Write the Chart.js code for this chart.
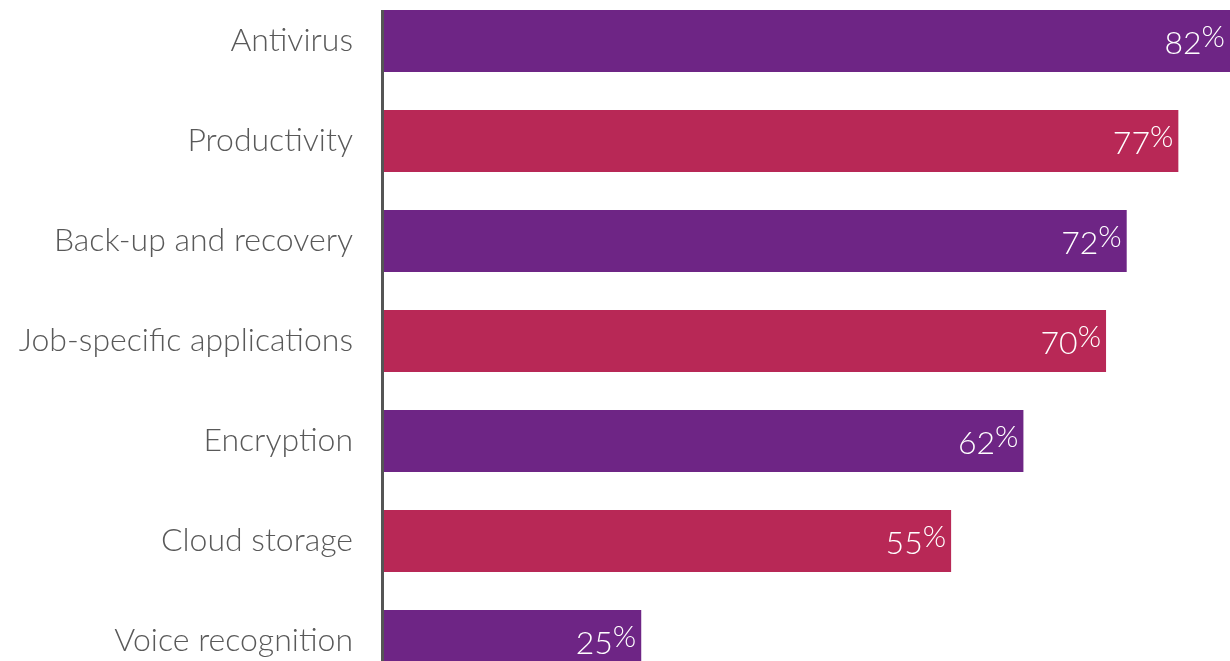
<!DOCTYPE html>
<html>
<head>
<meta charset="utf-8">
<script src="https://cdn.jsdelivr.net/npm/chart.js@4/dist/chart.umd.min.js"></script>
<style>
  html, body { margin: 0; padding: 0; background: #fff; overflow: hidden; }
  #wrap { position: absolute; left: 0; top: -9px; width: 1230px; height: 700px; }
</style>
</head>
<body>
<div id="wrap"><canvas id="chart"></canvas></div>
<script>
// data
const categories = ['Antivirus', 'Productivity', 'Back-up and recovery', 'Job-specific applications', 'Encryption', 'Cloud storage', 'Voice recognition'];
const shares = [82, 77, 72, 70, 62, 55, 25];
const barColors = ['#6e2585', '#b82856', '#6e2585', '#b82856', '#6e2585', '#b82856', '#6e2585'];

const FONT = 'Lato, "Open Sans", sans-serif';

// axis line starts at the top of the first bar
const axisLine = {
    id: 'axisLine',
    afterDatasetsDraw(chart) {
        const ctx = chart.ctx;
        const first = chart.getDatasetMeta(0).data[0];
        const area = chart.chartArea;
        ctx.save();
        ctx.strokeStyle = '#555555';
        ctx.lineWidth = 3;
        ctx.beginPath();
        ctx.moveTo(area.left - 0.5, first.y - first.height / 2);
        ctx.lineTo(area.left - 0.5, area.bottom);
        ctx.stroke();
        ctx.restore();
    }
};

// white value labels inside the bar end, % sign raised
const valueLabels = {
    id: 'valueLabels',
    afterDatasetsDraw(chart) {
        const ctx = chart.ctx;
        const meta = chart.getDatasetMeta(0);
        ctx.save();
        ctx.fillStyle = '#ffffff';
        ctx.textBaseline = 'alphabetic';
        ctx.textAlign = 'left';
        meta.data.forEach((bar, i) => {
            const num = String(shares[i]);
            ctx.font = '300 32px ' + FONT;
            const numW = ctx.measureText(num).width;
            ctx.font = '300 30px ' + FONT;
            const pctW = ctx.measureText('%').width;
            const right = bar.x - 5;
            const base = bar.y + 13;
            ctx.font = '300 32px ' + FONT;
            ctx.fillText(num, right - pctW - numW, base);
            ctx.font = '300 30px ' + FONT;
            ctx.fillText('%', right - pctW, base - 7);
        });
        ctx.restore();
    }
};

new Chart(document.getElementById('chart'), {
    type: 'bar',
    data: {
        labels: categories,
        datasets: [{
            data: shares,
            backgroundColor: barColors,
            barPercentage: 0.62,
            categoryPercentage: 1
        }]
    },
    options: {
        indexAxis: 'y',
        responsive: true,
        maintainAspectRatio: false,
        animation: false,
        layout: { padding: 0 },
        plugins: { legend: { display: false }, tooltip: { enabled: false } },
        scales: {
            x: { display: false, min: 0, max: 82 },
            y: {
                grid: { display: false, drawTicks: false },
                border: { display: false },
                ticks: {
                    color: '#595959',
                    font: { family: FONT, size: 32, weight: '300' },
                    padding: 30
                },
                afterFit(scale) {
                    scale.width = 383;
                    scale.paddingTop = 0;
                    scale.paddingBottom = 0;
                }
            }
        }
    },
    plugins: [axisLine, valueLabels]
});
</script>
</body>
</html>
